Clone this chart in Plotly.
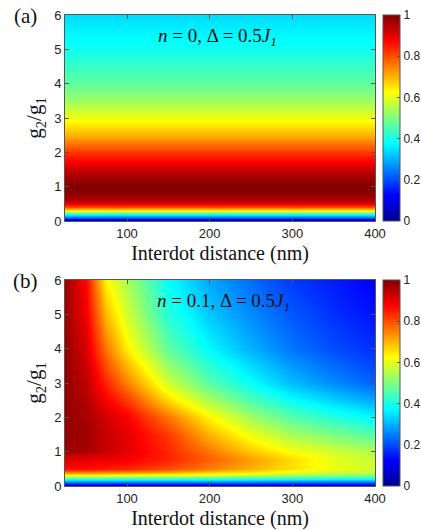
import plotly.graph_objects as go

# ---------------- data ----------------
# x: interdot distance (nm), y: g2/g1
x_nm = [25, 50, 75, 100, 150, 200, 250, 300, 350, 400]
y_a = [0, 0.05, 0.1, 0.2, 0.3, 0.4, 0.5, 0.6, 0.75, 1.0, 1.3, 1.5, 2.0, 2.5, 3.0, 3.5, 4.0, 5.0, 6.0]
# panel (a): value depends on g2/g1 only
prof_a = [0.03, 0.1, 0.2, 0.4, 0.6, 0.8, 0.88, 0.95, 0.98, 1.0, 0.96, 0.93, 0.82, 0.7, 0.61, 0.53, 0.47, 0.39, 0.34]

y_b = [0, 0.1, 0.2, 0.3, 0.4, 0.5, 0.75, 0.9, 1.0, 1.5, 2.0, 2.5, 3.0, 4.0, 5.0, 6.0]
row_b_00 = [0.03, 0.03, 0.03, 0.03, 0.03, 0.03, 0.03, 0.03, 0.03, 0.03]
row_b_01 = [0.2, 0.2, 0.2, 0.2, 0.2, 0.2, 0.2, 0.19, 0.19, 0.19]
row_b_02 = [0.4, 0.4, 0.4, 0.4, 0.4, 0.4, 0.39, 0.38, 0.37, 0.37]
row_b_03 = [0.58, 0.58, 0.58, 0.57, 0.56, 0.55, 0.53, 0.51, 0.49, 0.48]
row_b_04 = [0.76, 0.76, 0.75, 0.74, 0.72, 0.68, 0.65, 0.61, 0.58, 0.56]
row_b_05 = [0.86, 0.86, 0.85, 0.84, 0.8, 0.75, 0.7, 0.65, 0.61, 0.58]
row_b_075 = [0.91, 0.9, 0.89, 0.88, 0.84, 0.78, 0.72, 0.66, 0.6, 0.57]
row_b_09 = [0.93, 0.92, 0.91, 0.89, 0.84, 0.77, 0.7, 0.64, 0.59, 0.56]
row_b_10 = [0.97, 0.96, 0.93, 0.9, 0.84, 0.76, 0.68, 0.62, 0.58, 0.55]
row_b_15 = [0.98, 0.97, 0.93, 0.9, 0.82, 0.7, 0.61, 0.54, 0.5, 0.46]
row_b_20 = [0.98, 0.96, 0.92, 0.88, 0.76, 0.63, 0.53, 0.46, 0.41, 0.37]
row_b_25 = [0.98, 0.95, 0.88, 0.82, 0.66, 0.54, 0.45, 0.38, 0.33, 0.29]
row_b_30 = [0.98, 0.94, 0.84, 0.75, 0.58, 0.46, 0.38, 0.31, 0.26, 0.22]
row_b_40 = [0.98, 0.91, 0.76, 0.64, 0.47, 0.37, 0.3, 0.24, 0.2, 0.17]
row_b_50 = [0.97, 0.89, 0.69, 0.58, 0.41, 0.32, 0.26, 0.21, 0.17, 0.14]
row_b_60 = [0.97, 0.87, 0.63, 0.54, 0.38, 0.29, 0.23, 0.18, 0.15, 0.12]

z_a = [[v] * len(x_nm) for v in prof_a]
z_b = [row_b_00, row_b_01, row_b_02, row_b_03, row_b_04, row_b_05, row_b_075, row_b_09,
       row_b_10, row_b_15, row_b_20, row_b_25, row_b_30, row_b_40, row_b_50, row_b_60]

xticks = [100, 200, 300, 400]
yticks = [0, 1, 2, 3, 4, 5, 6]
cticks = [0, 0.2, 0.4, 0.6, 0.8, 1]
cticktext = ['0', '0.2', '0.4', '0.6', '0.8', '1']

jet = [[0.0, 'rgb(0,0,143)'], [0.125, 'rgb(0,0,255)'], [0.375, 'rgb(0,255,255)'],
       [0.625, 'rgb(255,255,0)'], [0.875, 'rgb(255,0,0)'], [1.0, 'rgb(128,0,0)']]

W, H = 421, 530
def px(v): return v / W
def py(v): return 1 - v / H

fig = go.Figure()
panels = [
    dict(z=z_a, y=y_a, top=15, bot=221, xa='x', ya='y', label='(a)',
         txt='<i>n</i> = 0, Δ = 0.5<i>J</i><sub><i>1</i></sub>', tx=217),
    dict(z=z_b, y=y_b, top=280, bot=486, xa='x2', ya='y2', label='(b)',
         txt='<i>n</i> = 0.1, Δ = 0.5<i>J</i><sub><i>1</i></sub>', tx=223),
]
tickfont = dict(family='Liberation Sans, Arial', size=13, color='#222')
cbfont = dict(family='Liberation Sans, Arial', size=12, color='#222')
serif = 'Liberation Serif, Times New Roman'

for i, p in enumerate(panels):
    fig.add_trace(go.Heatmap(
        x=x_nm, y=p['y'], z=p['z'], zmin=0, zmax=1, zsmooth='best',
        colorscale=jet, xaxis=p['xa'], yaxis=p['ya'], hoverinfo='skip',
        colorbar=dict(x=px(383), xanchor='left', y=py((p['top'] + p['bot']) / 2),
                      yanchor='middle', len=p['bot'] - p['top'], lenmode='pixels',
                      thickness=17, thicknessmode='pixels', outlinewidth=1,
                      outlinecolor='#555', tickvals=cticks, ticktext=cticktext,
                      ticks='inside', ticklen=3, tickcolor='#555', tickfont=cbfont,
                      xpad=0, ypad=0)))
    suffix = '' if i == 0 else '2'
    common = dict(showgrid=False, zeroline=False, showline=True, linecolor='#555', linewidth=1,
                  mirror='ticks', ticks='inside', ticklen=4, tickcolor='#555', tickfont=tickfont)
    fig.layout['xaxis' + suffix] = dict(
        domain=[px(65), px(375)], range=[25, 400], tickvals=xticks, anchor='y' + suffix,
        title=dict(text='Interdot distance (nm)', font=dict(family=serif, size=20, color='#111'), standoff=6),
        **common)
    fig.layout['yaxis' + suffix] = dict(
        domain=[py(p['bot']), py(p['top'])], range=[0, 6], tickvals=yticks, anchor='x' + suffix,
        title=dict(text='g<sub>2</sub>/g<sub>1</sub>', font=dict(family=serif, size=21, color='#111'), standoff=6),
        **common)
    fig.add_annotation(x=px(p['tx']), y=py(p['top'] + 22), xref='paper', yref='paper',
                       xanchor='center', yanchor='middle',
                       text=p['txt'], showarrow=False, font=dict(family=serif, size=19, color='#111'))
    fig.add_annotation(x=px(25), y=py(p['top'] + 1), xref='paper', yref='paper',
                       xanchor='center', yanchor='middle',
                       text=p['label'], showarrow=False, font=dict(family=serif, size=21, color='#111'))

fig.update_layout(width=W, height=H, margin=dict(l=0, r=0, t=0, b=0, autoexpand=False),
                  paper_bgcolor='white', plot_bgcolor='white', showlegend=False)
fig.write_html('out.html', config={'displayModeBar': False},
               post_script="document.body.style.margin='0px';document.body.style.overflow='hidden';")
